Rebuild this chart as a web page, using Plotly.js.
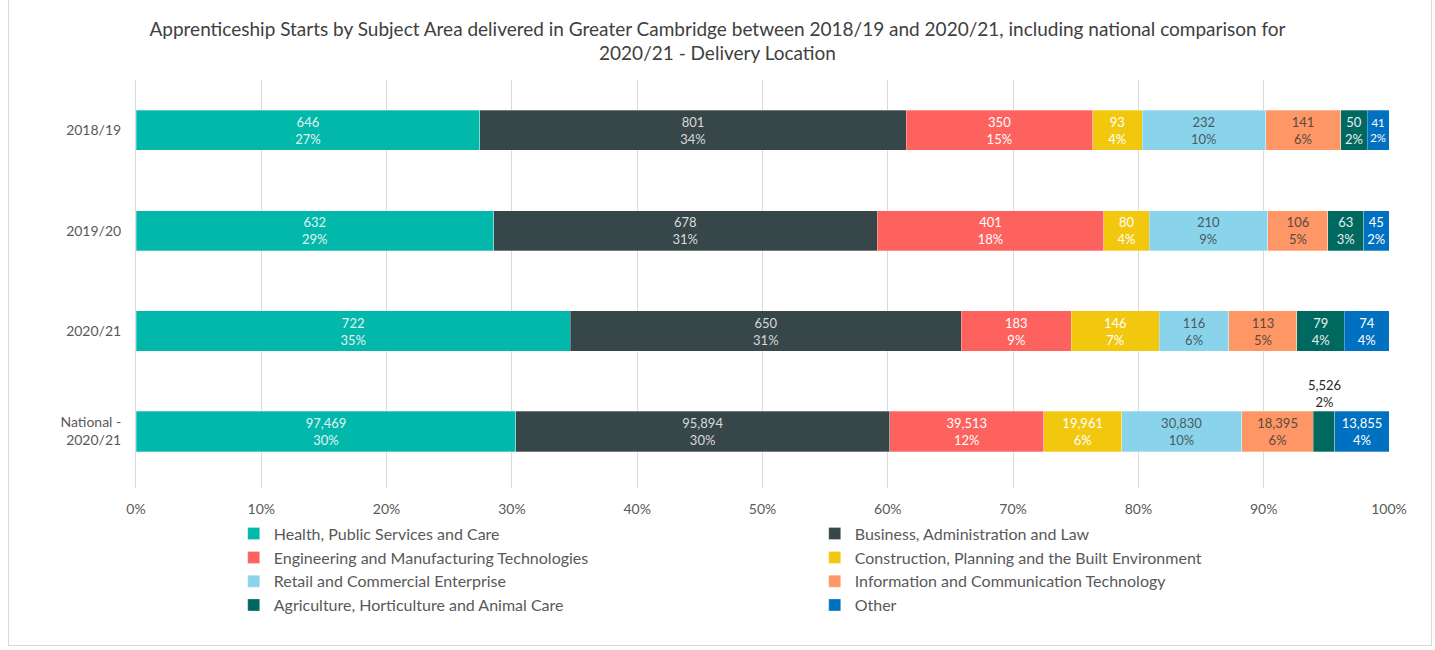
<!DOCTYPE html>
<html>
<head>
<meta charset="utf-8">
<script src="https://cdn.plot.ly/plotly-3.0.1.min.js"></script>
<style>
  html, body { margin: 0; padding: 0; background: #fff; }
  #frame { position: absolute; left: 8px; top: -2px; width: 1424px; height: 648px; border: 1px solid #d9d9d9; box-sizing: border-box; pointer-events: none; }
  #chart { width: 1435px; height: 650px; }
</style>
</head>
<body>
<div id="chart"></div>
<div id="frame"></div>
<script>
const categories = ['2018/19', '2019/20', '2020/21', 'National -<br>2020/21'];
const seriesNames = [
  'Health, Public Services and Care',
  'Business, Administration and Law',
  'Engineering and Manufacturing Technologies',
  'Construction, Planning and the Built Environment',
  'Retail and Commercial Enterprise',
  'Information and Communication Technology',
  'Agriculture, Horticulture and Animal Care',
  'Other'
];
const health       = [646, 632, 722, 97469];
const business     = [801, 678, 650, 95894];
const engineering  = [350, 401, 183, 39513];
const construction = [93, 80, 146, 19961];
const retail       = [232, 210, 116, 30830];
const ict          = [141, 106, 113, 18395];
const agriculture  = [50, 63, 79, 5526];
const other        = [41, 45, 74, 13855];

const seriesValues = [health, business, engineering, construction, retail, ict, agriculture, other];
const colors = ['#01B8AA', '#374649', '#FD625E', '#F2C80F', '#8AD4EB', '#FE9666', '#00695F', '#0070C0'];
const textColors = ['#e3f3f1', '#d9d9d9', '#ffffff', '#ffffff', '#4a5a60', '#5a4a40', '#e8eeee', '#ffffff'];

const totals = categories.map((c, i) => seriesValues.reduce((s, arr) => s + arr[i], 0));
const fmt = v => v.toLocaleString('en-US');
const pct = (v, i) => Math.round(v / totals[i] * 100) + '%';

const traces = seriesValues.map((vals, k) => ({
  type: 'bar',
  orientation: 'h',
  name: seriesNames[k],
  y: categories,
  x: vals,
  text: vals.map((v, i) => (k === 6 && i === 3) ? '' : fmt(v) + '<br>' + pct(v, i)),
  textposition: 'inside',
  insidetextanchor: 'middle',
  textangle: 0,
  insidetextfont: { family: 'Lato, sans-serif', size: 13, color: textColors[k] },
  marker: { color: colors[k], line: { color: 'rgba(255,255,255,0.6)', width: 0.5 } },
  hoverinfo: 'name+x'
}));

// annotation for small national agriculture segment (placed above the bar)
const natIdx = 3;
let cum = 0;
for (let k = 0; k < 6; k++) cum += seriesValues[k][natIdx];
const agMid = (cum + agriculture[natIdx] / 2) / totals[natIdx] * 100;

const layout = {
  width: 1435, height: 650,
  margin: { l: 136, r: 46, t: 80, b: 162, autoexpand: false },
  paper_bgcolor: '#ffffff', plot_bgcolor: '#ffffff',
  barmode: 'stack',
  barnorm: 'percent',
  bargap: 0.6,
  title: {
    text: 'Apprenticeship Starts by Subject Area delivered in Greater Cambridge between 2018/19 and 2020/21, including national comparison for<br>2020/21 - Delivery Location',
    font: { family: 'Lato, sans-serif', size: 19, color: '#404040' },
    x: 0.5, xanchor: 'center', y: 0.945, yanchor: 'top'
  },
  xaxis: {
    range: [0, 100], dtick: 10, ticksuffix: '%',
    showgrid: true, gridcolor: '#d9d9d9', gridwidth: 1,
    zeroline: false, showline: false,
    tickfont: { family: 'Lato, sans-serif', size: 14, color: '#595959' },
    ticks: '', ticklabelstandoff: 11, fixedrange: true
  },
  yaxis: {
    autorange: 'reversed',
    showgrid: false, zeroline: false,
    showline: true, linecolor: '#d9d9d9',
    tickfont: { family: 'Lato, sans-serif', size: 14, color: '#595959' },
    ticks: '', ticklabelstandoff: 11, fixedrange: true
  },
  showlegend: true,
  legend: {
    orientation: 'h',
    x: 0.078, xanchor: 'left', y: -0.0703, yanchor: 'top',
    entrywidth: 536, entrywidthmode: 'pixels',
    traceorder: 'normal',
    font: { family: 'Lato, sans-serif', size: 16, color: '#595959' },
    itemwidth: 30, tracegroupgap: 0
  },
  annotations: [{
    x: agMid, y: categories[natIdx], xref: 'x', yref: 'y',
    text: fmt(agriculture[natIdx]) + '<br>' + pct(agriculture[natIdx], natIdx),
    showarrow: false, yshift: 38,
    font: { family: 'Lato, sans-serif', size: 13, color: '#262626' }
  }]
};

Plotly.newPlot('chart', traces, layout, { displayModeBar: false, responsive: false });
</script>
</body>
</html>
